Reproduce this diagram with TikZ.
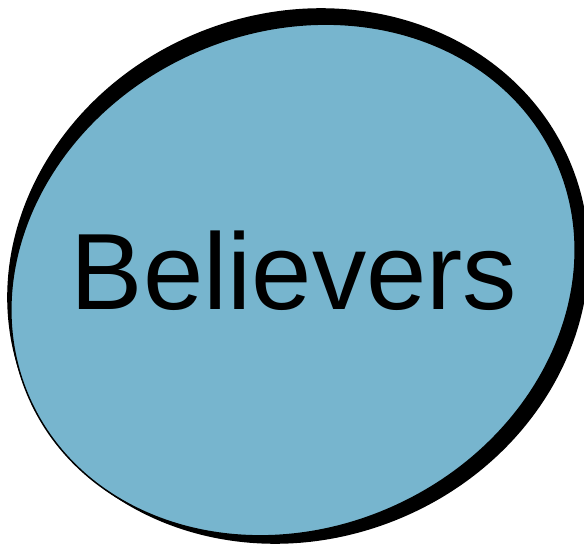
\documentclass[tikz,border=0pt]{standalone}
\usepackage{fontspec}
\setmainfont{Liberation Sans}
\usetikzlibrary{positioning}
\definecolor{BlobBlue}{HTML}{77B5CE}

\begin{document}
\begin{tikzpicture}[x=1pt, y=1pt]
        \useasboundingbox (0,0) rectangle (584,550);
        % Schatten
        \fill[black, rotate around={22:(298,274)}] (298,274) ellipse [x radius=295, y radius=263];
        % Blase
        \filldraw[fill=BlobBlue, draw=black, line width=1.5pt, rotate around={25:(293,270)}] (293,270) ellipse [x radius=289, y radius=248];
        \node[anchor=base, inner sep=0pt, font=\fontsize{108.5}{112}\selectfont] (believers) at (294,241) {Believers};
      \end{tikzpicture}
\end{document}
